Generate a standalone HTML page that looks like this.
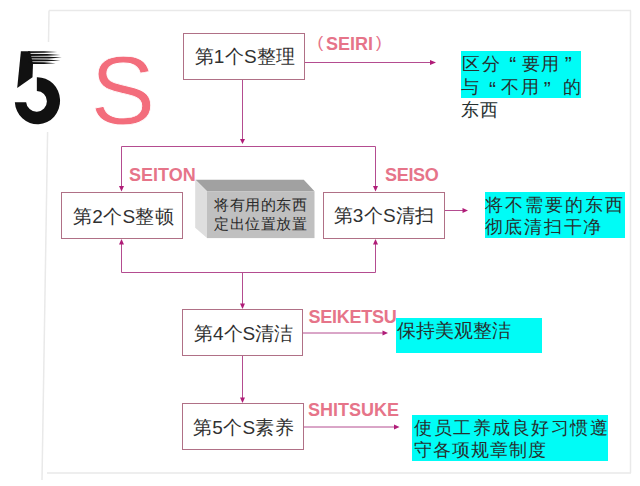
<!DOCTYPE html>
<html><head><meta charset="utf-8">
<style>
html,body{margin:0;padding:0;width:640px;height:486px;overflow:hidden;background:#fff;}
body{position:relative;font-family:"Liberation Sans",sans-serif;color:#222;}
.a{position:absolute;white-space:nowrap;}
.box{position:absolute;box-sizing:border-box;border:1px solid #b07086;background:#fff;}
.bt{position:absolute;font-size:19px;line-height:19px;white-space:nowrap;color:#303030;letter-spacing:0.3px;}
.lab{position:absolute;font-weight:bold;font-size:18px;line-height:18px;color:#e67489;white-space:nowrap;}
.par{font-weight:normal;}
.cy{position:absolute;background:#00fcf6;}
.ct{position:absolute;font-size:17px;line-height:17px;white-space:nowrap;color:#263030;}
.c1{font-size:17px;letter-spacing:2.75px;}
.c2{font-size:18px;letter-spacing:2.1px;}
.c3{font-size:18.5px;letter-spacing:0px;}
.c4{font-size:18px;letter-spacing:1.5px;}
.g{position:absolute;font-size:17.5px;line-height:17px;color:#263030;}
.q{font-size:21px;margin-top:1px;}
svg{position:absolute;left:0;top:0;}
</style></head><body>
<svg width="640" height="486" viewBox="0 0 640 486">
  <!-- frame -->
  <g stroke="#e9e9e9" stroke-width="1.5" fill="none">
    <line x1="49" y1="10.5" x2="631" y2="10.5"/>
    <line x1="630.5" y1="10.5" x2="630.5" y2="473"/>
    <line x1="47" y1="473" x2="631" y2="473"/>
    <line x1="49" y1="10.5" x2="48.5" y2="42"/><line x1="47.6" y1="132" x2="42" y2="480"/>
  </g>
  <!-- connectors -->
  <g stroke="#b44c90" stroke-width="1" fill="none">
    <line x1="305" y1="62.5" x2="431" y2="62.5"/>
    <line x1="242.5" y1="80" x2="242.5" y2="140"/>
    <line x1="121.5" y1="146.5" x2="375.5" y2="146.5"/>
    <line x1="121.5" y1="146.5" x2="121.5" y2="186"/>
    <line x1="375.5" y1="146.5" x2="375.5" y2="186"/>
    <line x1="445" y1="210.5" x2="464" y2="210.5"/>
    <line x1="121.5" y1="272.5" x2="375.5" y2="272.5"/>
    <line x1="121.5" y1="272.5" x2="121.5" y2="244"/>
    <line x1="375.5" y1="272.5" x2="375.5" y2="244"/>
    <line x1="242.5" y1="272.5" x2="242.5" y2="304"/>
    <line x1="303" y1="333" x2="384" y2="333"/>
    <line x1="242.5" y1="355" x2="242.5" y2="398"/>
    <line x1="303" y1="427" x2="395" y2="427"/>
  </g>
  <g fill="#b01c78">
    <polygon points="436,62.5 430,60 430,65"/>
    <polygon points="242.5,144 240,139 245,139"/>
    <polygon points="121.5,191.5 119,186 124,186"/>
    <polygon points="375.5,191.5 373,186 378,186"/>
    <polygon points="468,210.5 462.5,208 462.5,213"/>
    <polygon points="121.5,239 119,244.5 124,244.5"/>
    <polygon points="375.5,239 373,244.5 378,244.5"/>
    <polygon points="242.5,309 240,303.5 245,303.5"/>
    <polygon points="388,333 382.5,330.5 382.5,335.5"/>
    <polygon points="242.5,403 240,397.5 245,397.5"/>
    <polygon points="399.5,427 394,424.5 394,429.5"/>
  </g>
  <!-- gray 3D box -->
  <polygon points="195.5,179.8 303.8,179.8 314.5,191.2 207,191.2" fill="#a1a1a1"/>
  <polygon points="195.2,179.8 207,191.2 207,238 195.2,227.8" fill="#dedede"/>
  <rect x="207" y="191.2" width="107.5" height="46.9" fill="#c0c0c0"/>
  <!-- 5 logo -->
  <g fill="#111">
    <polygon points="20.9,51.2 30,51.2 33,64.1 32.5,77.2 17.2,87.9"/>
    <path d="M36.85,77.2 A22.65,23.55 0 1 1 14.84,102.2 L26.14,102.2 A10.4,10.4 0 1 0 36.85,90.9 Z"/>
    <polygon points="28,51.2 44,51.3 57.2,51.9 44,52.8 28,53"/>
    <polygon points="28,53.8 47,54 60.3,55 47,55.8 28,56"/>
    <polygon points="28,56.6 49,56.8 61.9,57.6 49,58.4 28,58.6"/>
    <polygon points="28,59.3 47,59.5 60.3,60.4 47,61.3 28,61.4"/>
    <polygon points="28,62.1 44,62.3 55.6,63.2 44,64 28,64.1"/>
  </g>
</svg>

<div class="a" style="left:90.5px;top:42px;font-size:97px;line-height:97px;color:#f36d7c;-webkit-text-stroke:0.8px #fff;">S</div>

<div class="box" style="left:183px;top:33px;width:122px;height:47px;"></div>
<div class="bt" style="left:194.5px;top:47px;">第1个S整理</div>
<div class="lab par" style="left:317.5px;top:34px;font-size:17px;">(</div><div class="lab" style="left:326px;top:35px;">SEIRI</div><div class="lab par" style="left:376px;top:34px;font-size:17px;">)</div>

<div class="cy" style="left:460.5px;top:50.5px;width:120.5px;height:47px;"></div>
<span class="g" style="left:461.8px;top:55.8px;">区</span>
<span class="g" style="left:481.5px;top:55.8px;">分</span>
<span class="g q" style="left:509.3px;top:53.9px;">“</span>
<span class="g" style="left:522px;top:55.8px;">要</span>
<span class="g" style="left:541.1px;top:55.8px;">用</span>
<span class="g q" style="left:564.8px;top:53.9px;">”</span>
<span class="g" style="left:461px;top:78.6px;">与</span>
<span class="g q" style="left:489.0px;top:78.6px;">“</span>
<span class="g" style="left:501px;top:78.6px;">不</span>
<span class="g" style="left:521.4px;top:78.6px;">用</span>
<span class="g q" style="left:543.7px;top:78.6px;">”</span>
<span class="g" style="left:563px;top:78.6px;">的</span>
<span class="g" style="left:460.7px;top:101.6px;">东</span>
<span class="g" style="left:479.7px;top:101.6px;">西</span>

<div class="box" style="left:61px;top:191.5px;width:121.5px;height:47px;"></div>
<div class="bt" style="left:73px;top:206.5px;">第2个S整顿</div>
<div class="lab" style="left:129px;top:166px;">SEITON</div>

<div class="a" style="left:214px;top:195px;font-size:15px;line-height:19px;letter-spacing:0.6px;color:#2a2a2a;">将有用的东西<br>定出位置放置</div>

<div class="box" style="left:323px;top:191.5px;width:122px;height:47px;"></div>
<div class="bt" style="left:333.5px;top:206px;">第3个S清扫</div>
<div class="lab" style="left:385px;top:166px;letter-spacing:-0.3px;">SEISO</div>

<div class="cy" style="left:484.5px;top:192px;width:140px;height:46px;"></div>
<div class="ct c2" style="left:484.5px;top:196.6px;">将不需要的东西</div>
<div class="ct c2" style="left:484.5px;top:218.5px;letter-spacing:1.75px;">彻底清扫干净</div>

<div class="box" style="left:182px;top:309px;width:121px;height:47px;"></div>
<div class="bt" style="left:194px;top:324px;letter-spacing:0;">第4个S清洁</div>
<div class="lab" style="left:308.5px;top:307.5px;letter-spacing:-0.25px;">SEIKETSU</div>

<div class="cy" style="left:395.5px;top:318px;width:146px;height:35px;"></div>
<div class="ct c3" style="left:397px;top:321.5px;">保持美观整洁</div>

<div class="box" style="left:182px;top:403px;width:121.5px;height:47px;"></div>
<div class="bt" style="left:193px;top:418px;">第5个S素养</div>
<div class="lab" style="left:308px;top:400.5px;">SHITSUKE</div>

<div class="cy" style="left:412px;top:415px;width:196px;height:46px;"></div>
<div class="ct c4" style="left:414px;top:420px;">使员工养成良好习惯遵</div>
<div class="ct c4" style="left:414px;top:442px;letter-spacing:1px;">守各项规章制度</div>
</body></html>
